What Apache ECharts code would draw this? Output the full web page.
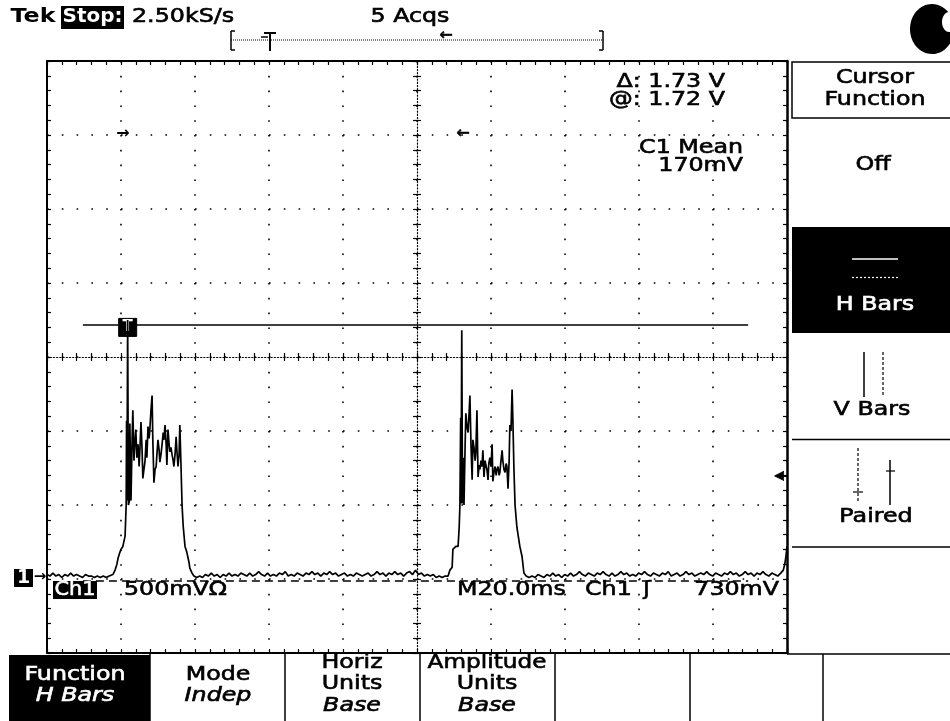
<!DOCTYPE html>
<html><head><meta charset="utf-8">
<script src="https://cdn.jsdelivr.net/npm/echarts@6/dist/echarts.min.js"></script>
<style>html,body{margin:0;padding:0;background:#fff;}#c{width:950px;height:721px;}</style>
</head><body><div id="c"></div>
<script>
// ---- data (time in ms, voltage in V) ----
const baselineStart = [[0,0.03],[0.8,0.02],[1.6,0.04],[2.4,0.02],[3.2,0.03],[4.0,0.01],[4.8,0.03],[5.6,0.02],[6.4,0.04],[7.2,0.02],[8.0,0.03],[8.8,0.02],[9.6,0.01],[10.4,0.03],[11.2,0.02],[12.0,0.02],[12.8,0.01],[13.6,0.02],[14.4,0.01],[15.2,0.02],[16.0,0.01],[16.8,0.02],[17.3,0.02]];
const pulse1 = [[17.8,0.03],[18.4,0.06],[18.9,0.10],[19.2,0.14],[19.7,0.18],[20.0,0.20],[20.5,0.22],[20.8,0.23],[21.1,0.29],[21.4,0.50],[21.5,1.07],[21.6,0.53],[21.8,1.75],[22.0,0.50],[22.3,0.53],[22.4,1.05],[22.7,0.53],[23.0,0.94],[23.2,1.14],[23.5,0.80],[23.8,0.94],[24.0,1.01],[24.3,0.82],[24.6,0.91],[24.9,0.76],[25.1,0.87],[25.4,1.06],[25.7,0.87],[25.9,0.68],[26.2,0.74],[26.5,0.80],[26.8,0.94],[27.0,0.82],[27.3,1.03],[27.6,0.95],[27.8,1.01],[28.1,1.14],[28.4,1.24],[28.6,0.94],[28.9,0.65],[29.2,0.74],[29.5,0.76],[29.7,0.84],[30.0,0.94],[30.3,0.87],[30.5,0.79],[30.8,0.84],[31.1,0.91],[31.4,0.99],[31.6,0.94],[31.9,1.04],[32.2,0.91],[32.4,0.77],[32.7,1.01],[33.0,0.91],[33.2,0.86],[33.5,0.89],[33.8,0.84],[34.1,0.80],[34.3,0.76],[34.6,0.84],[34.9,0.96],[35.1,0.87],[35.4,0.76],[35.7,0.84],[35.9,1.04],[36.2,0.78],[36.5,0.50],[36.8,0.36],[37.3,0.22],[37.8,0.18],[38.4,0.11],[38.6,0.074],[39.2,0.04],[39.7,0.02]];
const baselineMid = [[40.5,0.01],[41.3,0.02],[42.0,0.01],[42.8,0.03],[43.6,0.02],[44.4,0.04],[45.2,0.02],[46.0,0.03],[46.8,0.01],[47.6,0.03],[48.4,0.02],[49.2,0.04],[50.0,0.02],[50.8,0.03],[51.6,0.02],[52.4,0.04],[53.2,0.03],[54.0,0.02],[54.8,0.04],[55.6,0.02],[56.4,0.03],[57.2,0.05],[58.0,0.03],[58.8,0.02],[59.6,0.04],[60.4,0.02],[61.2,0.03],[62.0,0.02],[62.8,0.04],[63.6,0.03],[64.4,0.05],[65.2,0.02],[66.0,0.03],[66.8,0.02],[67.6,0.04],[68.4,0.03],[69.2,0.02],[70.0,0.04],[70.8,0.03],[71.6,0.05],[72.4,0.03],[73.2,0.04],[74.0,0.02],[74.8,0.04],[75.6,0.03],[76.4,0.05],[77.2,0.03],[78.0,0.04],[78.8,0.02],[79.6,0.03],[80.4,0.04],[81.2,0.02],[82.0,0.03],[82.8,0.02],[83.6,0.04],[84.4,0.03],[85.2,0.02],[86.0,0.03],[86.8,0.04],[87.6,0.02],[88.4,0.03],[89.2,0.05],[90.0,0.03],[90.8,0.04],[91.6,0.02],[92.4,0.04],[93.2,0.03],[94.0,0.05],[94.8,0.03],[95.6,0.04],[96.4,0.02],[97.2,0.04],[98.0,0.05],[98.8,0.03],[99.6,0.06],[100.4,0.03],[101.2,0.04],[102.0,0.02],[102.8,0.03],[103.6,0.02],[104.4,0.03],[105.2,0.01],[106.0,0.02],[106.8,0.01],[107.6,0.02]];
const pulse2 = [[108.4,0.02],[108.9,0.06],[109.5,0.08],[109.7,0.20],[110.0,0.21],[110.5,0.22],[111.1,0.22],[111.4,0.35],[111.6,0.50],[111.8,1.09],[111.9,0.51],[112.1,1.68],[112.3,0.51],[112.5,0.82],[112.7,0.50],[113.0,0.90],[113.2,1.12],[113.5,1.03],[113.8,0.99],[114.1,1.13],[114.3,1.24],[114.6,0.90],[114.9,0.67],[115.1,0.94],[115.4,0.89],[115.7,0.80],[115.9,0.85],[116.2,1.14],[116.5,0.69],[116.8,0.77],[117.0,0.74],[117.3,0.80],[117.6,0.76],[117.8,0.87],[118.1,0.69],[118.4,0.80],[118.6,0.77],[118.9,0.74],[119.2,0.67],[119.4,0.78],[119.7,0.82],[120.0,0.76],[120.3,0.91],[120.5,0.66],[120.8,0.72],[121.1,0.76],[121.4,0.70],[121.6,0.74],[121.9,0.76],[122.2,0.70],[122.4,0.72],[122.7,0.80],[123.0,0.87],[123.2,0.80],[123.5,0.74],[123.8,0.72],[124.1,0.78],[124.3,0.76],[124.6,0.61],[124.9,0.80],[125.1,1.04],[125.4,1.00],[125.7,1.28],[125.9,1.09],[126.2,0.74],[126.5,0.50],[127.0,0.35],[127.8,0.22],[128.4,0.15],[128.9,0.04],[129.5,0.02]];
const baselineEnd = [[130.3,0.01],[131.1,0.02],[131.9,0.01],[132.7,0.03],[133.5,0.02],[134.3,0.01],[135.1,0.03],[135.9,0.02],[136.7,0.04],[137.5,0.02],[138.3,0.03],[139.1,0.01],[139.9,0.03],[140.7,0.02],[141.5,0.04],[142.3,0.02],[143.1,0.03],[143.9,0.05],[144.7,0.03],[145.5,0.02],[146.3,0.04],[147.1,0.03],[147.9,0.02],[148.7,0.04],[149.5,0.03],[150.3,0.05],[151.1,0.03],[151.9,0.02],[152.7,0.04],[153.5,0.02],[154.3,0.03],[155.1,0.05],[155.9,0.03],[156.7,0.04],[157.5,0.02],[158.3,0.03],[159.1,0.02],[159.9,0.04],[160.7,0.03],[161.5,0.05],[162.3,0.03],[163.1,0.02],[163.9,0.04],[164.7,0.03],[165.5,0.02],[166.3,0.04],[167.1,0.03],[167.9,0.05],[168.7,0.02],[169.5,0.03],[170.3,0.04],[171.1,0.02],[171.9,0.03],[172.7,0.05],[173.5,0.03],[174.3,0.04],[175.1,0.02],[175.9,0.03],[176.7,0.04],[177.5,0.03],[178.3,0.05],[179.1,0.03],[179.9,0.02],[180.7,0.04],[181.5,0.03],[182.3,0.02],[183.1,0.04],[183.9,0.03],[184.7,0.05],[185.5,0.03],[186.3,0.04],[187.1,0.02],[187.9,0.03],[188.7,0.05],[189.5,0.03],[190.3,0.04],[191.1,0.02],[191.9,0.04],[192.7,0.03],[193.5,0.05],[194.3,0.03],[195.1,0.02],[195.9,0.04],[196.7,0.03],[197.5,0.02],[198.3,0.04],[199.0,0.06],[199.4,0.10],[199.7,0.15],[200,0.22]];
const cursorVolts = [1.72, -0.01];      // active (solid) and reference (dashed) H bars
const cursorSpanMs = [9.7, 189.5];
const triggerMarkMs = [21.8, 1.70];     // "T" marker on the cursor line
const timeRange = [0, 200], timeStep = 20;    // 20 ms/div
const voltRange = [-0.5, 3.5], voltStep = 0.5; // 500 mV/div
const topTexts = ['Tek', 'Stop:', '2.50kS/s', '5 Acqs'];
const readoutTexts = ['\u0394: 1.73 V', '@: 1.72 V', 'C1 Mean', '170mV'];
const sideMenuTexts = ['Cursor', 'Function', 'Off', 'H Bars', 'V Bars', 'Paired'];
const bottomMenuTexts = [['Function', 'H Bars'], ['Mode', 'Indep'], ['Horiz', 'Units', 'Base'], ['Amplitude', 'Units', 'Base']];
const scaleTexts = ['Ch1', '500mV\u03A9', 'M20.0ms', 'Ch1', '\u0283', '730mV'];

const trace = [].concat(baselineStart, pulse1, baselineMid, pulse2, baselineEnd);

const FONT = '"DejaVu Sans", "Liberation Sans", sans-serif';
function T(text, x, y, o) {
  o = o || {};
  const fill = o.fill || '#000';
  return { type: 'text', x: x, y: y, scaleX: o.sx != null ? o.sx : 1.25, z: 100, silent: true,
    style: { text: text, font: (o.italic ? 'italic ' : '') + (o.bold ? 'bold ' : '') + (o.size || 19) + 'px ' + FONT,
      fill: fill, stroke: o.bold ? null : fill, lineWidth: o.bold ? 0 : 0.6,
      align: o.align || 'center', verticalAlign: 'middle',
      textAlign: o.align || 'center', textVerticalAlign: 'middle' } };
}
function R(x, y, w, h, fill, stroke, lw) {
  return { type: 'rect', z: 90, silent: true, shape: { x: x, y: y, width: w, height: h },
    style: { fill: fill || 'none', stroke: stroke || null, lineWidth: lw || 0 } };
}
function L(x1, y1, x2, y2, color, lw, dash) {
  return { type: 'line', z: 95, silent: true, shape: { x1: x1, y1: y1, x2: x2, y2: y2 },
    style: { stroke: color || '#000', lineWidth: lw || 1.5, lineDash: dash || null } };
}

const tickStyle = { color: '#000', width: 1.2 };
function axis(extra) {
  const a = { type: 'value', axisLabel: { show: false }, splitLine: { show: false },
    axisTick: { show: true, inside: true, length: 4, lineStyle: tickStyle },
    minorTick: { show: true, splitNumber: 5, length: 4, lineStyle: tickStyle },
    axisLine: { show: true, onZero: false, lineStyle: { color: '#000', width: 2 } } };
  return Object.assign(a, extra);
}
const xb = { min: timeRange[0], max: timeRange[1], interval: timeStep };
const yb = { min: voltRange[0], max: voltRange[1], interval: voltStep };
const dotGrid = { show: true, lineStyle: { color: '#000', width: 1.6, type: [1.6, 13.2] } };

const graphics = [
  // top status line
  T(topTexts[0], 33, 17, { bold: true }),
  R(61, 6, 63, 23, '#000'),
  T(topTexts[1], 92.5, 17, { bold: true, fill: '#fff', sx: 1.05 }),
  T(topTexts[2], 132, 17, { align: 'left' }),
  T(topTexts[3], 410, 17),
  // record bar
  L(231, 31, 231, 50, '#000', 1.5), L(231, 31, 235, 31, '#000', 1.5), L(231, 50, 235, 50, '#000', 1.5),
  L(603, 31, 603, 50, '#000', 1.5), L(599, 31, 603, 31, '#000', 1.5), L(599, 50, 603, 50, '#000', 1.5),
  L(231, 40, 603, 40, '#000', 1, [1, 1]),
  L(270, 33, 270, 51, '#000', 2), L(264, 33, 276, 33, '#000', 2), L(261, 37, 268, 37, '#000', 1.5),
  T('\u2190', 446, 36, { size: 16, sx: 1 }),
  // top-right badge
  { type: 'ellipse', z: 90, silent: true, shape: { cx: 932, cy: 29, rx: 22, ry: 25 }, style: { fill: '#000' } },
  { type: 'ellipse', z: 91, silent: true, shape: { cx: 949, cy: 22, rx: 7, ry: 10 }, style: { fill: '#fff' } },
  // cursor readouts
  T(readoutTexts[0], 725, 82, { align: 'right' }),
  T(readoutTexts[1], 725, 100, { align: 'right' }),
  T(readoutTexts[2], 743, 148, { align: 'right' }),
  T(readoutTexts[3], 743, 166, { align: 'right' }),
  // markers on graticule
  T('\u2192', 123, 134, { size: 16, sx: 1, bold: true }),
  T('\u2190', 463, 134, { size: 16, sx: 1 }),
  T('\u25C0', 779, 476, { size: 12, sx: 1 }), L(780, 476, 787, 476, '#000', 2),
  R(14, 569, 19, 18, '#000'), T('1', 23.5, 578, { fill: '#fff', bold: true, sx: 1 }),
  T('\u2192', 40, 577, { size: 15, sx: 1, bold: true }),
  // scale readouts
  R(53, 581, 44, 18, '#000'), T(scaleTexts[0], 75, 590, { fill: '#fff', sx: 1.1 }),
  T(scaleTexts[1], 124, 590, { align: 'left' }),
  T(scaleTexts[2], 457, 590, { align: 'left' }),
  T(scaleTexts[3], 585, 590, { align: 'left' }),
  T(scaleTexts[4], 647, 590, { sx: 1.2 }),
  T(scaleTexts[5], 779, 590, { align: 'right' }),
  // right side menu
  R(792, 62, 160, 56, '#fff', '#000', 1.5),
  T(sideMenuTexts[0], 875, 78), T(sideMenuTexts[1], 875, 100),
  T(sideMenuTexts[2], 873, 165),
  R(792, 227, 158, 106, '#000'),
  L(852, 259, 898, 259, '#fff', 1.5), L(852, 277.5, 898, 277.5, '#fff', 1.2, [2, 2]),
  T(sideMenuTexts[3], 875, 305, { fill: '#fff' }),
  L(864, 352, 864, 397, '#000', 1.5), L(883, 352, 883, 397, '#000', 1.2, [3, 2]),
  T(sideMenuTexts[4], 872, 410),
  L(792, 439.5, 950, 439.5, '#000', 1.5),
  L(858, 448, 858, 503, '#000', 1.2, [3, 2]), L(853, 492, 863, 492, '#000', 1.2),
  L(890, 460, 890, 505, '#000', 1.5), L(886, 471, 895, 471, '#000', 1.2),
  T(sideMenuTexts[5], 876, 517),
  L(792, 547, 950, 547, '#000', 1.5),
  // bottom menu
  L(787, 654, 950, 654, '#000', 1.5),
  R(9, 655, 141, 66, '#000'),
  T(bottomMenuTexts[0][0], 75, 675, { fill: '#fff' }), T(bottomMenuTexts[0][1], 75, 696, { fill: '#fff', italic: true }),
  L(150, 654, 150, 721), L(285, 654, 285, 721), L(420, 654, 420, 721), L(555, 654, 555, 721), L(690, 654, 690, 721), L(823, 654, 823, 721),
  T(bottomMenuTexts[1][0], 218, 675), T(bottomMenuTexts[1][1], 218, 696, { italic: true }),
  T(bottomMenuTexts[2][0], 352, 663), T(bottomMenuTexts[2][1], 352, 684), T(bottomMenuTexts[2][2], 352, 706, { italic: true }),
  T(bottomMenuTexts[3][0], 487, 663, { sx: 1.22 }), T(bottomMenuTexts[3][1], 487, 684), T(bottomMenuTexts[3][2], 487, 706, { italic: true })
];

const chart = echarts.init(document.getElementById('c'), null, { renderer: 'canvas' });
chart.setOption({
  animation: false,
  backgroundColor: '#fff',
  grid: { left: 47, top: 61, width: 740, height: 592, containLabel: false, outerBoundsMode: 'none' },
  xAxis: [
    axis(Object.assign({}, xb, { position: 'bottom', splitLine: dotGrid, axisLine: { show: true, onZero: false, lineStyle: { color: '#000', width: 2 } } })),
    axis(Object.assign({}, xb, { position: 'top' })),
    axis(Object.assign({}, xb, { position: 'bottom', offset: -296,
      axisTick: { show: true, inside: false, length: 4, lineStyle: tickStyle },
      axisLine: { show: true, onZero: false, lineStyle: { color: '#000', width: 1.2, type: [1.2, 2] } } })),
    axis(Object.assign({}, xb, { position: 'bottom', offset: -296, axisLine: { show: false } }))
  ],
  yAxis: [
    axis(Object.assign({}, yb, { position: 'left', splitLine: dotGrid })),
    axis(Object.assign({}, yb, { position: 'right', axisLine: { show: true, onZero: false, lineStyle: { color: '#000', width: 2.5 } } })),
    axis(Object.assign({}, yb, { position: 'left', offset: -370,
      axisTick: { show: true, inside: false, length: 4, lineStyle: tickStyle },
      axisLine: { show: true, onZero: false, lineStyle: { color: '#000', width: 1.2, type: [1.2, 2] } } })),
    axis(Object.assign({}, yb, { position: 'left', offset: -370, axisLine: { show: false } }))
  ],
  series: [{
    type: 'line', xAxisIndex: 0, yAxisIndex: 0, data: trace, showSymbol: false, symbol: 'none',
    lineStyle: { color: '#000', width: 1.7 }, z: 5, silent: true,
    markLine: {
      silent: true, symbol: 'none', label: { show: false }, animation: false,
      lineStyle: { color: '#000', width: 1.5 },
      data: [
        [{ coord: [cursorSpanMs[0], cursorVolts[0]], lineStyle: { type: 'solid', color: '#000', width: 1.6 } }, { coord: [cursorSpanMs[1], cursorVolts[0]] }],
        [{ coord: [cursorSpanMs[0], cursorVolts[1]], lineStyle: { type: [8, 5], color: '#000', width: 1.6 } }, { coord: [cursorSpanMs[1], cursorVolts[1]] }]
      ]
    },
    markPoint: {
      silent: true, animation: false,
      data: [{ coord: triggerMarkMs, symbol: 'rect', symbolSize: [18, 18],
        itemStyle: { color: '#000', borderColor: '#000', borderWidth: 1 },
        label: { show: true, position: 'inside', formatter: 'T', color: '#fff', fontWeight: 'bold', fontSize: 15, fontFamily: 'DejaVu Sans' } }]
    }
  }],
  graphic: graphics
});
</script></body></html>
